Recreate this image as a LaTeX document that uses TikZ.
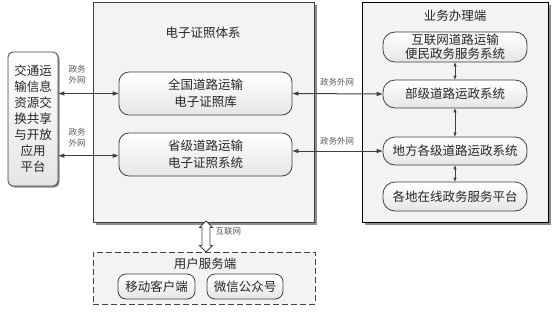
\documentclass[tikz,border=0pt]{standalone}
\usepackage{fontspec}
\setmainfont{Noto Sans CJK SC}
\usetikzlibrary{positioning,arrows.meta,calc,shadows}
\definecolor{frame}{HTML}{404040}
\definecolor{pane}{HTML}{F3F3F3}
\definecolor{shade}{HTML}{8C8C8C}
\definecolor{ink}{HTML}{262626}
\definecolor{note}{HTML}{595959}

\begin{document}
\begin{tikzpicture}[x=1pt,y=-1pt,
    panel/.style={draw=frame,line width=1pt,fill=pane,inner sep=0pt,
      drop shadow={shadow xshift=2.5pt,shadow yshift=-2.5pt,fill=shade,opacity=1}},
    sysbox/.style={draw=frame,line width=0.8pt,rounded corners=10pt,
      top color=white,bottom color=black!10,text=ink,align=center,
      inner sep=0pt,font=\fontsize{12.5}{17}\selectfont},
    pill/.style={sysbox,rounded corners=12pt,minimum width=144pt,
      font=\fontsize{12.5}{14}\selectfont},
    title/.style={text=ink,font=\fontsize{12.5}{15}\selectfont},
    netlbl/.style={text=note,align=center,font=\fontsize{8.5}{11}\selectfont},
    biarr/.style={{Triangle[length=6pt,width=4pt]}-{Triangle[length=6pt,width=4pt]},
      line width=1pt,draw=frame},
    thinarr/.style={{Triangle[length=4pt,width=3pt]}-{Triangle[length=4pt,width=3pt]},
      line width=0.8pt,draw=frame}]
  \useasboundingbox (0,0) rectangle (552,319);
  % containers
  \node[panel,minimum width=221pt,minimum height=220pt] (cert) at (203.5,112) {};
  \node[panel,draw=black,minimum width=186pt,minimum height=220pt] (biz) at (455,112) {};
  \node[draw=frame,line width=0.8pt,dashed,dash pattern=on 6pt off 3pt,fill=pane,
    minimum width=222pt,minimum height=52pt] (user) at (204,278) {};
  \node[title] at (203,33) {电子证照体系};
  \node[title] at (455,16) {业务办理端};
  \node[title] at (205,264) {用户服务端};
  % exchange platform
  \node[sysbox,rounded corners=5pt,minimum width=50pt,minimum height=134pt,
    font=\fontsize{12.5}{16}\selectfont,
    drop shadow={shadow xshift=1.5pt,shadow yshift=-1.5pt,fill=shade,opacity=1}]
    (plat) at (33,119) {交通运\\输信息\\资源交\\换共享\\与开放\\应用\\平台};
  % certificate systems
  \node[sysbox,minimum width=173pt,minimum height=43pt] (lib) at (205.5,93.5)
    {全国道路运输\\电子证照库};
  \node[sysbox,minimum width=173pt,minimum height=43pt] (prov) at (205.5,154.5)
    {省级道路运输\\电子证照系统};
  % business side
  \node[pill,minimum height=30pt] (web) at (455,47) {互联网道路运输\\便民政务服务系统};
  \node[pill,minimum height=28pt] (mini) at (455,94) {部级道路运政系统};
  \node[pill,minimum height=28pt] (local) at (455,151) {地方各级道路运政系统};
  \node[pill,minimum height=29pt] (online) at (455,196.5) {各地在线政务服务平台};
  % user side
  \node[sysbox,rounded corners=8pt,minimum width=77pt,minimum height=25pt] (app)
    at (156.5,286.5) {移动客户端};
  \node[sysbox,rounded corners=8pt,minimum width=76pt,minimum height=25pt] (wx)
    at (245,286.5) {微信公众号};
  % connectors
  \draw[biarr] (plat.east |- lib) -- (lib.west);
  \draw[biarr] (plat.east |- 0,155.7) -- (prov.west |- 0,155.7);
  \draw[biarr] (lib.east) -- (mini.west);
  \draw[biarr] (prov.east |- local) -- (local.west);
  \node[netlbl] at (77,74.5) {政务\\外网};
  \node[netlbl] at (77,138) {政务\\外网};
  \node[netlbl] at (337,82) {政务外网};
  \node[netlbl] at (337,141) {政务外网};
  \draw[thinarr] (web) -- (mini);
  \draw[thinarr] (mini) -- (local);
  \draw[thinarr] (local) -- (online);
  % internet link
  \coordinate (nt) at (206,221);
  \coordinate (nb) at (206,252);
  \draw[frame,line width=0.8pt,fill=white] (nt) -- ++(6.5,6.5) -- ++(-2.5,0)
    -- ++(0,18) -- ++(2.5,0) -- (nb) -- ++(-6.5,-6.5) -- ++(2.5,0)
    -- ++(0,-18) -- ++(-2.5,0) -- cycle;
  \node[netlbl,anchor=west] at (212,231) {互联网};
\end{tikzpicture}
\end{document}
